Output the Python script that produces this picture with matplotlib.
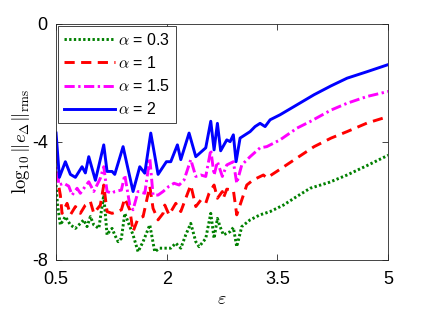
import matplotlib
matplotlib.use('Agg')
import matplotlib.pyplot as plt

plt.rcParams['font.family'] = ['Liberation Sans', 'DejaVu Sans']
plt.rcParams['mathtext.fontset'] = 'cm'

# alpha = 2 (blue, solid)
eps_a2 = [0.5, 0.545, 0.626, 0.694, 0.762, 0.852, 0.897, 0.943, 1.033, 1.146,
          1.191, 1.259, 1.295, 1.408, 1.453, 1.543, 1.634, 1.702, 1.783, 1.882,
          1.995, 2.054, 2.144, 2.19, 2.302, 2.393, 2.528, 2.596, 2.641, 2.686,
          2.73, 2.813, 2.858, 2.902, 2.939, 2.993, 3.061, 3.129, 3.196, 3.264,
          3.332, 3.40, 3.535, 3.725, 3.996, 4.226, 4.443, 4.714, 5.0]
err_a2 = [-3.7, -5.2, -4.67, -5.1, -5.2, -4.84, -5.05, -4.5, -5.3, -4.1,
          -5.0, -5.0, -5.1, -4.16, -4.67, -5.68, -4.84, -5.06, -3.7, -5.1,
          -4.67, -4.67, -4.1, -4.6, -3.7, -4.5, -4.2, -3.3, -4.27, -3.37,
          -4.3, -3.93, -3.99, -3.76, -4.67, -3.87, -3.76, -3.65, -3.48, -3.37,
          -3.48, -3.25, -3.08, -2.8, -2.4, -2.1, -1.84, -1.62, -1.38]

# alpha = 1.5 (magenta, dash-dot)
eps_a15 = [0.5, 0.537, 0.604, 0.672, 0.717, 0.785, 0.829, 0.897, 0.943, 1.011,
           1.1, 1.146, 1.191, 1.259, 1.295, 1.385, 1.431, 1.499, 1.543, 1.611,
           1.702, 1.77, 1.814, 1.882, 1.95, 2.031, 2.099, 2.167, 2.234, 2.325,
           2.393, 2.461, 2.528, 2.596, 2.641, 2.686, 2.753, 2.813, 2.902, 2.948,
           3.016, 3.129, 3.264, 3.355, 3.535, 3.766, 3.942, 4.226, 4.443, 4.714, 5.0]
err_a15 = [-4.38, -5.46, -5.4, -5.5, -5.8, -5.57, -5.74, -5.5, -5.35, -5.68,
           -5.23, -4.84, -5.68, -5.74, -5.68, -5.63, -5.12, -6.14, -6.3, -5.68,
           -5.74, -4.55, -5.8, -5.8, -5.68, -5.5, -5.4, -5.46, -5.29, -4.6,
           -5.17, -5.12, -5.17, -4.27, -5.12, -4.67, -5.17, -4.78, -4.67, -5.4,
           -4.78, -4.5, -4.2, -4.16, -3.93, -3.53, -3.31, -2.92, -2.69, -2.46, -2.29]

# alpha = 1 (red, dashed)
eps_a1 = [0.5, 0.558, 0.581, 0.649, 0.694, 0.762, 0.829, 0.897, 0.965, 1.011,
          1.1, 1.146, 1.191, 1.259, 1.34, 1.385, 1.431, 1.499, 1.543, 1.611,
          1.679, 1.77, 1.814, 1.882, 1.95, 1.973, 2.031, 2.122, 2.19, 2.257,
          2.325, 2.393, 2.461, 2.528, 2.573, 2.641, 2.686, 2.753, 2.767, 2.813,
          2.902, 2.948, 3.084, 3.169, 3.309, 3.355, 3.49, 3.76, 3.996, 4.226,
          4.443, 4.714, 5.0]
err_a1 = [-5.0, -5.8, -6.42, -6.08, -6.47, -6.19, -6.42, -6.14, -6.02, -6.42,
          -6.14, -5.46, -6.36, -6.42, -6.35, -6.3, -5.91, -6.3, -7.04, -6.59,
          -6.53, -5.5, -6.25, -6.64, -6.42, -6.14, -6.47, -6.08, -6.36, -5.91,
          -5.46, -6.19, -5.97, -6.08, -5.74, -5.46, -5.91, -5.68, -5.9, -5.6,
          -5.63, -6.47, -5.46, -5.29, -5.12, -5.22, -5.0, -4.55, -4.16, -3.87,
          -3.65, -3.36, -3.14]

# alpha = 0.3 (green, dotted)
eps_a03 = [0.5, 0.52, 0.558, 0.626, 0.694, 0.762, 0.829, 0.875, 0.92, 0.965,
           1.011, 1.079, 1.146, 1.191, 1.236, 1.259, 1.295, 1.34, 1.385, 1.431,
           1.543, 1.611, 1.679, 1.77, 1.837, 1.905, 1.973, 2.054, 2.122, 2.19,
           2.257, 2.325, 2.393, 2.438, 2.528, 2.596, 2.641, 2.686, 2.722, 2.767,
           2.858, 2.902, 2.948, 3.016, 3.129, 3.264, 3.4, 3.58, 3.761, 3.942,
           4.2, 4.443, 4.714, 5.0]
err_a03 = [-5.46, -6.14, -6.81, -6.53, -6.81, -6.93, -6.76, -6.64, -6.87, -6.53,
           -6.81, -6.93, -5.8, -7.15, -6.98, -6.93, -7.15, -7.38, -7.27, -6.42,
           -7.15, -7.72, -7.38, -6.81, -7.72, -7.6, -7.6, -7.6, -7.43, -7.6,
           -7.15, -6.76, -7.38, -7.55, -7.27, -6.42, -7.27, -6.59, -6.87, -7.15,
           -7.04, -6.9, -7.55, -6.87, -6.64, -6.47, -6.36, -6.14, -5.85, -5.57,
           -5.37, -5.12, -4.8, -4.45]

xticks = [0.5, 2, 3.5, 5]
xtick_labels = ['0.5', '2', '3.5', '5']
yticks = [-8, -4, 0]
ytick_labels = ['-8', '-4', '0']

fig = plt.figure(figsize=(4.28, 3.14), dpi=100)
ax = fig.add_axes([0.131, 0.172, 0.776, 0.752])

lw = 2.1
ax.plot(eps_a03, err_a03, color='#008000', linestyle=(0, (0.8, 0.8)), linewidth=lw, label=r'$\alpha$ = 0.3')
ax.plot(eps_a1, err_a1, color='#ff0000', linestyle=(0, (3.5, 2.2)), linewidth=lw, label=r'$\alpha$ = 1')
ax.plot(eps_a15, err_a15, color='#ff00ff', linestyle=(0, (3.5, 1.2, 0.8, 1.2)), linewidth=lw, label=r'$\alpha$ = 1.5')
ax.plot(eps_a2, err_a2, color='#0000ff', linestyle='-', linewidth=lw, label=r'$\alpha$ = 2')

ax.set_xlim(0.5, 5)
ax.set_ylim(-8, 0)
ax.set_xticks(xticks)
ax.set_xticklabels(xtick_labels)
ax.set_yticks(yticks)
ax.set_yticklabels(ytick_labels)
ax.tick_params(direction='in', top=True, right=True, labelsize=13, length=4,
               width=0.6, color='#262626')
ax.tick_params(axis='x', pad=8)
ax.tick_params(axis='y', pad=6)
for s in ax.spines.values():
    s.set_color('#262626')
    s.set_linewidth(0.6)

ax.set_xlabel(r'$\varepsilon$', fontsize=13, labelpad=2)
ax.set_ylabel(r'$\log_{10}\|e_\Delta\|_{\rm rms}$', fontsize=13.5, labelpad=0)

leg = ax.legend(loc='upper left', fontsize=11.5, handlelength=3.2, handletextpad=0.2,
                borderpad=0.35, labelspacing=0.45, fancybox=False, framealpha=1,
                borderaxespad=0.15)
leg.get_frame().set_edgecolor('#262626')
leg.get_frame().set_linewidth(0.6)

fig.savefig('out.png', dpi=100)
